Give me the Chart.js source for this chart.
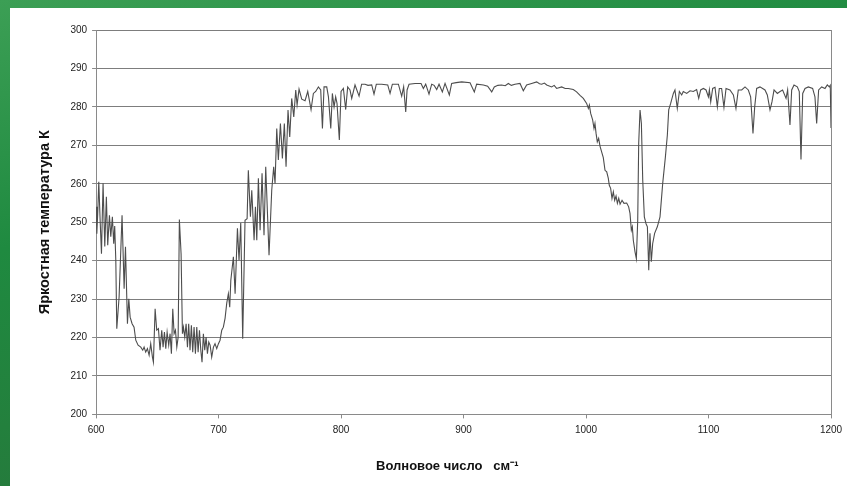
<!DOCTYPE html>
<html>
<head>
<meta charset="utf-8">
<script src="https://cdn.jsdelivr.net/npm/chart.js@4/dist/chart.umd.min.js"></script>
<style>
  html, body { margin: 0; padding: 0; }
  body {
    width: 847px; height: 486px; overflow: hidden; position: relative;
    background: linear-gradient(165deg, #3c9f55 0%, #1f8a40 35%, #23803d 60%, #2b6b3b 100%);
  }
  .panel { position: absolute; left: 10px; top: 8px; width: 837px; height: 478px; background: #fff; }
</style>
</head>
<body>
<div class="panel"><canvas id="spectrum" width="837" height="478"></canvas></div>
<script>
// brightness temperature spectrum, wavenumber in cm-1
const wavenumbers = [
  600, 600.6, 601.3, 602.2, 603.3, 604.4, 605.1, 605.7, 607.1, 608.4, 609.5, 610.9, 612, 613.3, 614.4, 615.2,
  616.1, 616.9, 618.8, 621.2, 622.9, 624, 625.6, 626.7, 627.8, 629.4, 631, 632.4, 634.3, 636.5, 638.1, 639.2,
  640.5, 641.9, 643.3, 644.6, 646, 646.8, 648.2, 649.5, 650.9, 652.2, 653.6, 654.7, 655.8, 656.9, 658, 659.3,
  660.4, 661.5, 662.6, 663.7, 664.8, 665.9, 667, 668, 669.4, 670.5, 671.3, 672.4, 673.5, 674.6, 675.6, 676.7,
  677.8, 678.9, 680, 681.1, 682.2, 683.3, 684.4, 685.5, 686.5, 687.6, 688.7, 689.8, 690.9, 692, 693.1, 694.4,
  695.8, 697.1, 698.5, 699.9, 701.2, 702.6, 703.9, 705.3, 706.7, 708, 709.1, 710, 712.1, 713.5, 715.4, 716.7,
  718.1, 719.7, 721.6, 723.3, 724.3, 726, 727.1, 729, 730.1, 731.2, 732.5, 733.9, 735.5, 737.1, 738.5, 741.2,
  743.4, 745, 746.1, 747.5, 748.8, 750.5, 752.1, 753.7, 755.1, 756.7, 758.1, 759.7, 761.4, 763, 764.1, 765.7,
  767.9, 770.6, 772.8, 775.5, 777.4, 779.3, 781.5, 783.4, 784.8, 786.1, 788.3, 789.7, 791.6, 792.9, 794.3, 795.6,
  796.7, 798.6, 800, 801.9, 803.8, 805.4, 807.3, 808.7, 811.4, 814.7, 816.8, 819.6, 822, 825, 826.9, 828.8,
  833.2, 838.1, 840, 841.9, 846.8, 849.5, 851.1, 852.8, 853.9, 855.5, 860.4, 865.3, 867.2, 869.1, 871.8, 874,
  876, 878.1, 880, 882.7, 884.9, 888.4, 890.3, 894, 898.5, 905.3, 908.8, 910.7, 916.2, 919.7, 923, 925.1,
  928, 931.1, 934, 936.6, 939, 942, 946.1, 948.8, 951.5, 955.6, 959.7, 962, 963.8, 966, 967.9, 971.9,
  974, 976, 980.1, 983, 985.5, 989.6, 992.3, 995.1, 997.8, 1000.5, 1001.9, 1002.7, 1003.8, 1005.4, 1006.5, 1007.3,
  1008.2, 1009.2, 1010.3, 1011.4, 1013.1, 1014.1, 1015.5, 1016.9, 1018.2, 1019, 1020.1, 1021.2, 1022.3, 1023.4, 1024.5, 1025.6,
  1026.7, 1027.8, 1029.4, 1031, 1033.2, 1034.8, 1035.9, 1037, 1037.8, 1038.6, 1040, 1041.1, 1042.2, 1043, 1044.1, 1045.2,
  1046.3, 1047.6, 1049, 1050.1, 1051.2, 1052.2, 1053.3, 1054.4, 1056, 1058.2, 1060.4, 1062.6, 1064.8, 1066.4, 1067.5, 1069.1,
  1071.3, 1072.6, 1074.5, 1076.2, 1078.1, 1079.4, 1082.2, 1084.9, 1087.6, 1090.3, 1092, 1093.6, 1095.8, 1098, 1099.9, 1100.7,
  1101.8, 1103.4, 1105.3, 1107.2, 1108.8, 1110.7, 1112.6, 1114.3, 1117.5, 1120.3, 1122.4, 1124.3, 1127.1, 1129.8, 1132.5, 1134.4,
  1136.3, 1137.7, 1139.3, 1142, 1146.1, 1148, 1150.2, 1151.8, 1153.5, 1156.2, 1158.4, 1160.5, 1163.3, 1164.6, 1166.5, 1167.9,
  1169.8, 1172.5, 1174.1, 1175.5, 1176.9, 1178.8, 1181.5, 1185, 1186.9, 1188.3, 1189.9, 1192.4, 1195.1, 1197, 1198.6, 1199.4,
  1200
];
const brightnessTemp = [
  254, 247, 252, 260.5, 250.5, 241.8, 252, 260.1, 243.7, 256.6, 244, 251.8, 246.2, 251.4, 244.4, 249,
  240.1, 222.3, 230.6, 251.8, 232.7, 243.6, 223.6, 230.1, 225.3, 223.6, 222.7, 219.3, 218, 217.5, 216.7, 217.5,
  216.2, 217.1, 215.4, 218.4, 214.9, 213.6, 227.5, 221.9, 222.3, 216.7, 221.9, 217.5, 221.4, 217.1, 221.4, 218,
  221, 215.8, 227.5, 221, 221.9, 217.5, 220.1, 250.7, 241.8, 221, 222.7, 220.1, 223.6, 217.5, 223.6, 216.7,
  223.2, 216.2, 222.7, 215.8, 222.7, 216.2, 221.9, 216.7, 213.6, 221, 216.7, 220.1, 215.8, 218.8, 218, 214.9,
  217.5, 218.4, 217.1, 218.4, 219.3, 221.9, 222.7, 225, 229, 231.4, 227.9, 234.9, 241, 231.4, 248.4, 240.1,
  249.8, 219.7, 250.5, 250.9, 263.5, 251.4, 258.3, 245.3, 254, 245.3, 261.4, 247.9, 262.7, 246.6, 264.4, 241.4,
  258.3, 264.4, 260.1, 274.4, 266.2, 275.7, 266.6, 275.7, 264.4, 279.2, 272.2, 282.2, 277.4, 284.4, 280.5, 284.6,
  282, 281.6, 284, 279.3, 283.5, 284, 285.2, 284.4, 274.4, 285.2, 285.2, 282.6, 274.4, 283.5, 280, 282.6,
  280.9, 271.4, 284, 284.8, 279.3, 285.2, 284.4, 282.2, 285.7, 282.8, 285.9, 285.9, 285.6, 285.7, 283.3, 285.9,
  285.9, 285.7, 283.5, 285.9, 285.9, 282.8, 285.2, 278.7, 284.4, 285.9, 286.1, 286.1, 284.8, 285.9, 283.3, 285.9,
  285.6, 284.5, 285.9, 283.9, 286.1, 283.1, 286.1, 286.3, 286.5, 286.3, 283.9, 285.9, 285.7, 285.4, 283.9, 285.2,
  285.6, 285.7, 285.5, 286.1, 285.6, 285.9, 286.1, 284.2, 285.7, 286.1, 286.5, 286, 285.9, 286.2, 285.7, 285.2,
  285.6, 284.8, 285.2, 284.8, 284.8, 284.5, 283.9, 283, 282.2, 280.9, 279.6, 280.5, 278.3, 276.6, 274.4, 275.7,
  273.1, 270.9, 271.8, 269.8, 267.9, 266.8, 263.5, 263.1, 261.4, 259.6, 258.8, 256.2, 257.9, 255.7, 256.8, 254.9,
  256.2, 254.7, 255.7, 254.9, 255, 254, 252.3, 247.9, 248.8, 245.3, 242.3, 240.5, 250.5, 270.5, 279.2, 275.7,
  260.9, 251.4, 249.6, 248.8, 237.5, 247.1, 239.7, 244.4, 247.1, 248.8, 251.4, 260.1, 267, 272.7, 279.2, 280.9,
  283.5, 284.4, 279.6, 284, 283.1, 284, 283.5, 284.2, 284, 284.5, 282.2, 284.4, 284.8, 284.4, 282.6, 284.4,
  281.3, 284.8, 285.1, 280, 284.8, 284.8, 279.9, 284.8, 284.4, 283.1, 279.6, 284.4, 284.4, 285.2, 284.4, 282.6,
  273.1, 280, 284.8, 285.2, 284.4, 283.1, 279.2, 281.3, 284.4, 283.5, 284, 284.4, 282.2, 284.4, 275.3, 284.4,
  285.7, 285.2, 284, 266.3, 283.5, 284.8, 285.2, 284.8, 282.6, 275.7, 284.4, 285.2, 284.8, 285.7, 285.2, 285.6,
  274.5
];
const xTicks = [600, 700, 800, 900, 1000, 1100, 1200];
const yTicks = [200, 210, 220, 230, 240, 250, 260, 270, 280, 290, 300];

const points = wavenumbers.map((w, i) => ({ x: w, y: brightnessTemp[i] }));
const labelFont = { family: "'Liberation Sans', Arial, sans-serif", size: 10 };
const fontFamily = "'Liberation Sans', Arial, sans-serif";

new Chart(document.getElementById("spectrum"), {
    type: "line",
    data: {
        datasets: [{
            data: points,
            borderColor: "#4d4d4d",
            borderWidth: 1.1,
            pointRadius: 0,
            tension: 0,
            fill: false,
        }],
    },
    options: {
        responsive: false,
        animation: false,
        layout: { padding: { left: 22, right: 7, top: 22, bottom: 8 } },
        plugins: { legend: { display: false }, tooltip: { enabled: false } },
        scales: {
            x: {
                type: "linear",
                min: xTicks[0],
                max: xTicks[xTicks.length - 1],
                afterBuildTicks: (axis) => { axis.ticks = xTicks.map((v) => ({ value: v })); },
                // room on the right for the last tick label
                afterFit: (axis) => { axis.paddingRight = 16; },
                ticks: { color: "#222", font: labelFont, padding: 6, maxRotation: 0, callback: (v) => String(v) },
                grid: {
                    // only the closing line at the right edge
                    color: (c) => (c.tick && c.tick.value === 1200 ? "#8a8a8a" : "rgba(0,0,0,0)"),
                    tickColor: "#8a8a8a",
                    tickLength: 4,
                },
                border: { color: "#8a8a8a" },
                title: {
                    display: true,
                    // trailing spaces pull the caption a little to the left
                    text: "Волновое число   см⁻¹         ",
                    color: "#111",
                    font: { family: fontFamily, size: 13, weight: "bold" },
                    padding: { top: 16 },
                },
            },
            y: {
                min: yTicks[0],
                max: yTicks[yTicks.length - 1],
                afterBuildTicks: (axis) => { axis.ticks = yTicks.map((v) => ({ value: v })); },
                ticks: { color: "#222", font: labelFont, padding: 5 },
                grid: { color: "#7d7d7d", tickColor: "#8a8a8a", tickLength: 4 },
                border: { color: "#8a8a8a" },
                title: {
                    display: true,
                    text: "Яркостная температура К",
                    color: "#111",
                    font: { family: fontFamily, size: 14.5, weight: "bold" },
                    padding: { bottom: 12 },
                },
            },
        },
    },
});
</script>
</body>
</html>
